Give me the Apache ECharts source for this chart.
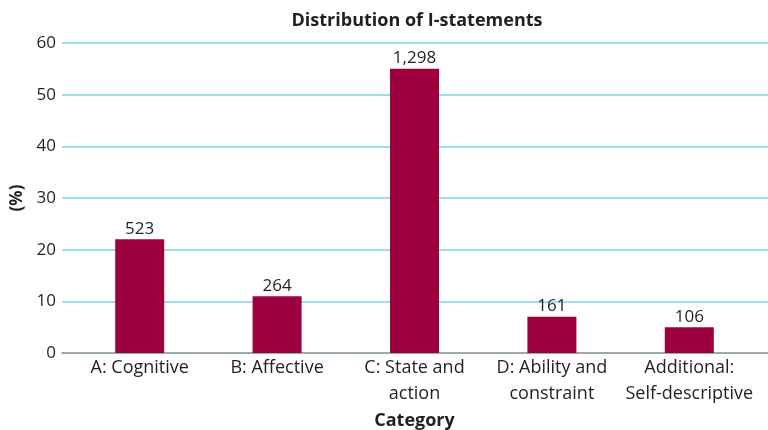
<!DOCTYPE html>
<html>
<head>
<meta charset="utf-8">
<script src="https://cdn.jsdelivr.net/npm/echarts@6/dist/echarts.min.js"></script>
<style>
  html, body { margin: 0; padding: 0; background: #fff; }
  #chart { width: 768px; height: 430px; }
</style>
</head>
<body>
<div id="chart"></div>
<script>
// I-statement categories, share of all statements (%) and raw counts
const categories = [
  'A: Cognitive',
  'B: Affective',
  'C: State and\naction',
  'D: Ability and\nconstraint',
  'Additional:\nSelf-descriptive'
];
const percentValues = [22, 11, 55, 7, 5];
const counts = [523, 264, 1298, 161, 106];
const yTicks = { min: 0, max: 60, interval: 10 };

const FONT = '"Open Sans", "Noto Sans", sans-serif';
const TEXT = '#231f20';

const chart = echarts.init(document.getElementById('chart'), null, { renderer: 'canvas' });

chart.setOption({
  animation: false,
  textStyle: { fontFamily: FONT },
  graphic: [{
    type: 'text',
    x: 417,
    y: 21,
    style: {
      text: 'Distribution of I-statements',
      fontFamily: FONT,
      fontWeight: 'bold',
      fontSize: 18,
      fill: TEXT,
      align: 'center',
      verticalAlign: 'middle'
    }
  }],
  grid: [
    // value scale with the full-width gridlines
    { left: 62, right: 0, top: 43, bottom: 77, containLabel: false, outerBoundsMode: 'none' },
    // category band holding the bars
    { left: 71, right: 10, top: 43, bottom: 77, containLabel: false, outerBoundsMode: 'none' }
  ],
  xAxis: [
    {
      gridIndex: 0,
      type: 'value',
      axisLine: { show: true, lineStyle: { color: '#9a9a9a', width: 1.5 } },
      axisTick: { show: false },
      axisLabel: { show: false },
      splitLine: { show: false }
    },
    {
      gridIndex: 1,
      type: 'category',
      data: categories,
      axisLine: { show: false },
      axisTick: { show: false },
      axisLabel: {
        color: TEXT,
        fontFamily: FONT,
        fontSize: 18,
        lineHeight: 26,
        margin: 2,
        interval: 0
      },
      name: 'Category',
      nameLocation: 'middle',
      nameGap: 54,
      nameTextStyle: { color: TEXT, fontFamily: FONT, fontWeight: 'bold', fontSize: 18 }
    }
  ],
  yAxis: [
    {
      gridIndex: 0,
      type: 'value',
      min: yTicks.min,
      max: yTicks.max,
      interval: yTicks.interval,
      axisLine: { show: false },
      axisTick: { show: false },
      axisLabel: { color: TEXT, fontFamily: FONT, fontSize: 17, margin: 6 },
      splitLine: { show: true, lineStyle: { color: '#7fcfec', width: 1.5 } },
      name: '(%)',
      nameLocation: 'middle',
      nameGap: 35,
      nameRotate: 90,
      nameTextStyle: { color: TEXT, fontFamily: FONT, fontWeight: 'bold', fontSize: 17 }
    },
    {
      gridIndex: 1,
      type: 'value',
      min: yTicks.min,
      max: yTicks.max,
      interval: yTicks.interval,
      show: false
    }
  ],
  series: [{
    type: 'bar',
    xAxisIndex: 1,
    yAxisIndex: 1,
    data: percentValues,
    barWidth: 49,
    itemStyle: { color: '#9c003f' },
    label: {
      show: true,
      position: 'top',
      distance: 2,
      color: TEXT,
      fontFamily: FONT,
      fontSize: 17,
      formatter: p => counts[p.dataIndex].toLocaleString('en-US')
    }
  }]
});
</script>
</body>
</html>
